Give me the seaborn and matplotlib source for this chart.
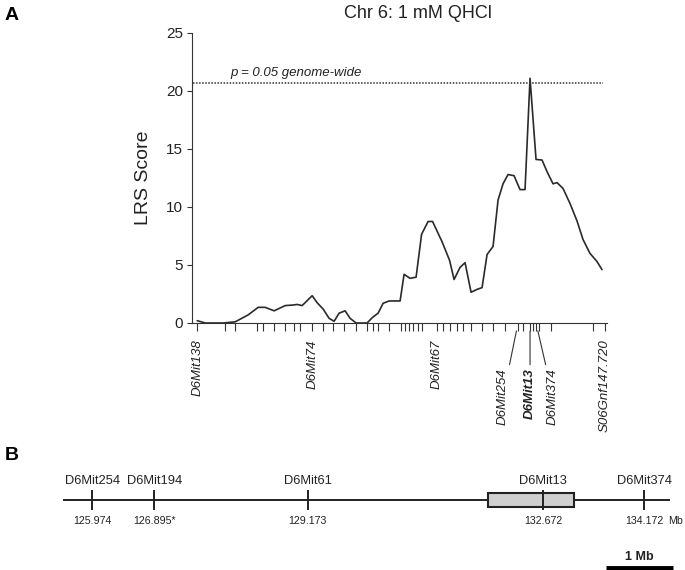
import matplotlib
matplotlib.use("Agg")
import pandas as pd
import matplotlib.pyplot as plt
import seaborn as sns

# LRS profile along chr 6 (cM from D6Mit138)
pos_cm = [0.0, 0.8, 2.6, 3.8, 5.1, 6.1, 6.8, 7.7, 8.8, 9.6, 10.0, 10.5, 11.5, 12.0,
          12.6, 13.2, 13.7, 14.2, 14.8, 15.3, 15.9, 17.0, 17.5, 18.1, 18.6, 19.2,
          20.3, 20.7, 21.3, 21.9, 22.45, 23.1, 23.55, 24.5, 25.25, 25.7, 26.3, 26.8,
          27.4, 28.0, 28.5, 29.0, 29.6, 30.1, 30.6, 31.1, 31.7, 32.3, 32.8, 33.3,
          33.9, 34.5, 35.0, 35.6, 36.0, 36.6, 37.3, 38.0, 38.6, 39.3, 40.0, 40.5]
lrs = [0.2, 0.0, 0.0, 0.1, 0.7, 1.35, 1.35, 1.05, 1.5, 1.55, 1.6, 1.5, 2.35, 1.75,
       1.2, 0.4, 0.15, 0.85, 1.05, 0.4, 0.0, 0.0, 0.45, 0.85, 1.7, 1.9,
       1.9, 4.2, 3.85, 3.95, 7.65, 8.75, 8.75, 7.0, 5.4, 3.75, 4.8, 5.2,
       2.65, 2.9, 3.05, 5.9, 6.6, 10.6, 12.0, 12.8, 12.7, 11.5, 11.5, 21.1,
       14.1, 14.05, 13.05, 12.0, 12.1, 11.6, 10.3, 8.8, 7.2, 6.0, 5.3, 4.6]
threshold = 20.65

# genotyped marker positions (cM) shown as ticks
marker_cm = [0.0, 2.8, 3.8, 6.0, 6.55, 7.65, 8.8, 9.7, 10.3, 11.5, 12.6, 13.6, 14.7,
             15.9, 17.0, 17.6, 18.1, 19.2, 20.4, 20.8, 21.2, 21.6, 22.1, 22.5, 24.0,
             24.6, 25.3, 26.0, 26.6, 27.4, 28.5, 29.6, 30.8, 32.1, 32.6, 33.3, 33.6,
             33.9, 34.2, 35.4, 39.6, 40.8]

# labelled markers: name, position, label offset (pt)
label_names = ["D6Mit138", "D6Mit74", "D6Mit67", "D6Mit254", "D6Mit13", "D6Mit374",
               "S06Gnf147.720"]
label_cm = [0.0, 11.5, 24.0, 32.1, 33.3, 33.9, 40.8]
label_dx = [0, 0, 0, -10.8, 0, 12.2, 0]
label_dy = [-12, -12, -12, -32.4, -32.4, -32.4, -12]

# panel B physical map (Mb)
phys_names = ["D6Mit254", "D6Mit194", "D6Mit61", "D6Mit13", "D6Mit374"]
phys_mb = [125.974, 126.895, 129.173, 132.672, 134.172]
phys_text = ["125.974", "126.895*", "129.173", "132.672", "134.172"]
ci_mb = [131.855, 133.13]
chrom_mb = [125.54, 134.55]
scale_mb = [133.6, 134.6]

sns.set_style("ticks")
plt.rcParams["font.family"] = ["Liberation Sans", "DejaVu Sans"]
ink = "#222222"

fig = plt.figure(figsize=(6.85, 5.7), dpi=100)

# ---- panel A ----
ax = fig.add_axes([191.7 / 685, 1 - 323 / 570, (607 - 191.7) / 685, 290 / 570])
df = pd.DataFrame({"cM": pos_cm, "LRS": lrs})
sns.lineplot(data=df, x="cM", y="LRS", ax=ax, color="#2a2a2a", lw=1.2)
ax.hlines(threshold, -0.4, 40.6, colors="#333333", linestyles=(0, (1, 1)), lw=1.1)
ax.annotate("p = 0.05 genome-wide", xy=(3.3, threshold), xytext=(0, 3),
            textcoords="offset points", ha="left", va="bottom",
            fontsize=9.5, style="italic", color=ink)

ax.set_xlim(-0.55, 41.0)
ax.set_ylim(0, 25)
ax.set_yticks([0, 5, 10, 15, 20, 25])
ax.set_xticks(marker_cm)
ax.set_xticklabels([])
ax.tick_params(axis="x", direction="out", length=5.8, width=0.8, color="#333333")
ax.tick_params(axis="y", direction="out", length=3.6, width=0.8, color="#333333",
               labelsize=11, labelcolor=ink, pad=2.5)
ax.set_xlabel("")
ax.set_ylabel("LRS Score", fontsize=14, color=ink, labelpad=10)
sns.despine(ax=ax)
for s in ["left", "bottom"]:
    ax.spines[s].set_color("#333333")
    ax.spines[s].set_linewidth(0.8)

for name, x, dx, dy in zip(label_names, label_cm, label_dx, label_dy):
    bold = name == "D6Mit13"
    arrow = None
    if dy < -20:
        arrow = dict(arrowstyle="-", lw=0.8, color="#333333", shrinkA=0, shrinkB=5.8)
    ax.annotate(name, xy=(x, 0), xytext=(dx, dy), textcoords="offset points",
                rotation=90, ha="center", va="top", fontsize=9.5, style="italic",
                fontweight="bold" if bold else "normal", color=ink,
                arrowprops=arrow, annotation_clip=False)

# ---- panel B ----
ax2 = fig.add_axes([0, 0, 1, 130 / 570])
ax2.set_xlim(124.603, 134.777)
ax2.set_ylim(-70, 60)
ax2.axis("off")
ax2.hlines(0, chrom_mb[0], chrom_mb[1], colors="#222222", lw=1.4)
ax2.add_patch(plt.Rectangle((ci_mb[0], -7), ci_mb[1] - ci_mb[0], 14,
                            facecolor="#d0d0d0", edgecolor="#222222", lw=1.5, zorder=3))
ax2.vlines(phys_mb, -10, 10, colors="#222222", lw=1.4, zorder=4)
for name, x, t in zip(phys_names, phys_mb, phys_text):
    ax2.text(x, 19, name, ha="center", va="center", fontsize=9.3, color=ink)
    ax2.text(x, -21, t, ha="center", va="center", fontsize=7.7, color=ink)
ax2.annotate("Mb", xy=(phys_mb[-1], -21), xytext=(17, 0), textcoords="offset points",
             ha="left", va="center", fontsize=7.7, color=ink)
ax2.hlines(-68, scale_mb[0], scale_mb[1], colors="black", lw=3.5)
ax2.text(sum(scale_mb) / 2, -56.5, "1 Mb", ha="center", va="center",
         fontsize=9, fontweight="bold", color=ink)

# titles and panel letters
fig.text(418 / 685, 1 - 14 / 570, "Chr 6: 1 mM QHCl", ha="center", va="center",
         fontsize=13, color=ink)
fig.text(5 / 685, 1 - 15 / 570, "A", ha="left", va="center", fontsize=14,
         fontweight="bold", color="black")
fig.text(5 / 685, 1 - 455 / 570, "B", ha="left", va="center", fontsize=14,
         fontweight="bold", color="black")

fig.savefig("out.png", dpi=100)
